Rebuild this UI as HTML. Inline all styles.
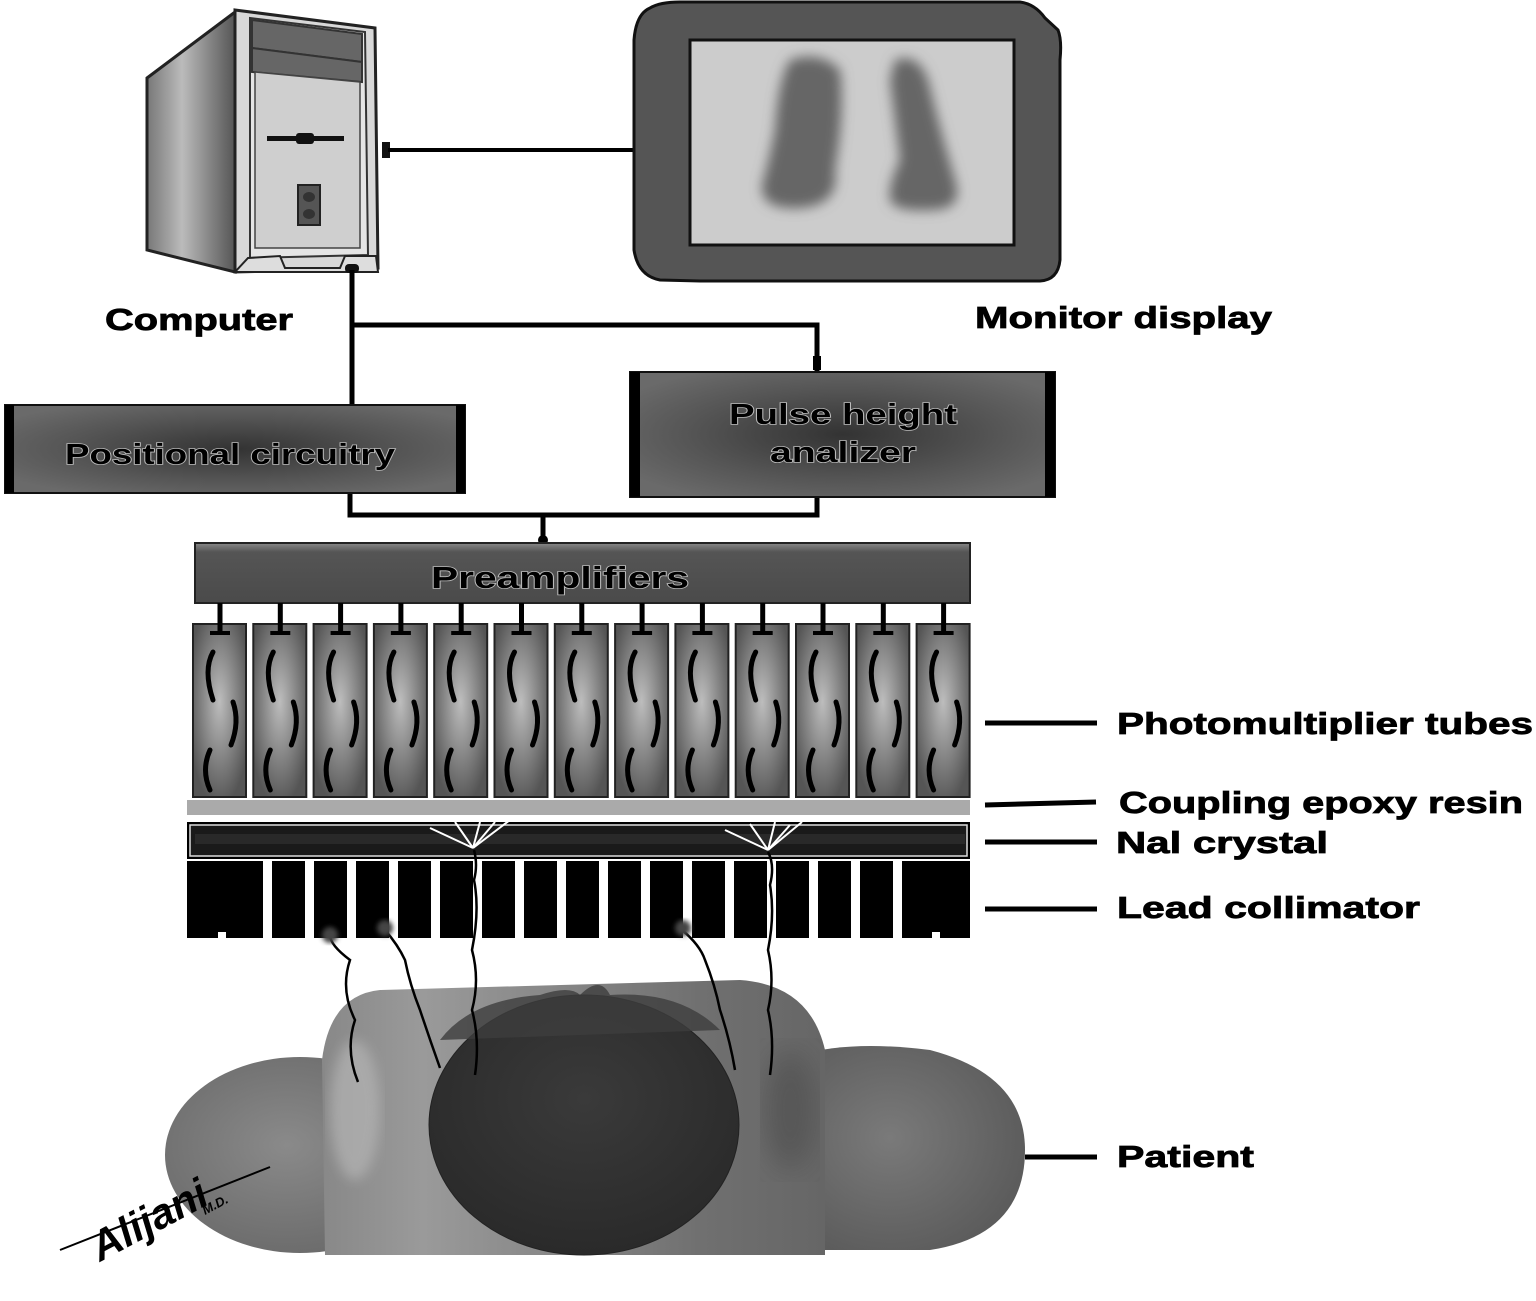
<!DOCTYPE html>
<html><head><meta charset="utf-8"><style>
html,body{margin:0;padding:0;background:#fff}
svg{display:block}
text{font-family:"Liberation Sans",Arial,sans-serif;font-weight:bold}
.bt{fill:#000;stroke:#bbb;stroke-width:1.6px;paint-order:stroke;}
</style></head><body>
<svg width="1536" height="1301" viewBox="0 0 1536 1301" xmlns="http://www.w3.org/2000/svg">
<defs>
<linearGradient id="side" x1="0" x2="1"><stop offset="0" stop-color="#777"/><stop offset="0.4" stop-color="#bbb"/><stop offset="1" stop-color="#555"/></linearGradient>
<radialGradient id="box" cx="0.5" cy="0.5" r="0.6"><stop offset="0" stop-color="#333"/><stop offset="0.6" stop-color="#555"/><stop offset="1" stop-color="#6a6a6a"/></radialGradient>
<radialGradient id="pmt" cx="0.5" cy="0.45" r="0.6"><stop offset="0" stop-color="#bdbdbd"/><stop offset="1" stop-color="#555"/></radialGradient>
<linearGradient id="pre" x1="0" y1="0" x2="0" y2="1"><stop offset="0" stop-color="#888"/><stop offset="0.15" stop-color="#555"/><stop offset="1" stop-color="#4a4a4a"/></linearGradient>
<filter id="blur"><feGaussianBlur stdDeviation="6"/></filter>
<filter id="blur2"><feGaussianBlur stdDeviation="2.5"/></filter>
<filter id="blur3"><feGaussianBlur stdDeviation="14"/></filter>
<linearGradient id="pat" x1="0" x2="1"><stop offset="0" stop-color="#888"/><stop offset="0.2" stop-color="#9a9a9a"/><stop offset="0.45" stop-color="#888"/><stop offset="0.75" stop-color="#707070"/><stop offset="1" stop-color="#666"/></linearGradient>
<radialGradient id="heart" cx="0.5" cy="0.4" r="0.6"><stop offset="0" stop-color="#3a3a3a"/><stop offset="1" stop-color="#2a2a2a"/></radialGradient>
<radialGradient id="lobeL" cx="0.45" cy="0.45" r="0.6"><stop offset="0" stop-color="#8a8a8a"/><stop offset="1" stop-color="#6a6a6a"/></radialGradient>
<radialGradient id="lobeR" cx="0.4" cy="0.45" r="0.65"><stop offset="0" stop-color="#7a7a7a"/><stop offset="1" stop-color="#5a5a5a"/></radialGradient>
</defs>

<!-- Computer -->
<polygon points="147,78 235,12 235,272 147,250" fill="url(#side)" stroke="#222" stroke-width="3"/>
<polygon points="235,10 375,28 378,268 235,272" fill="#d8d8d8" stroke="#222" stroke-width="3"/>
<polygon points="250,18 365,32 368,255 250,258" fill="#e5e5e5" stroke="#333" stroke-width="2"/>
<polygon points="252,20 362,34 362,62 252,48" fill="#666" stroke="#333" stroke-width="2"/>
<polygon points="252,48 362,62 362,82 252,72" fill="#666" stroke="#333" stroke-width="2"/>
<polygon points="255,72 360,82 360,248 255,248" fill="#cfcfcf" stroke="#444" stroke-width="1.5"/>
<rect x="267" y="136" width="77" height="5" fill="#111"/>
<rect x="296" y="133" width="18" height="11" rx="3" fill="#111"/>
<rect x="298" y="185" width="22" height="40" fill="#555" stroke="#222" stroke-width="2"/>
<ellipse cx="309" cy="197" rx="6" ry="5" fill="#333"/><ellipse cx="309" cy="214" rx="6" ry="5" fill="#333"/>
<path d="M248,258 L280,256 L285,268 L340,268 L345,256 L376,256 L378,272 L235,272Z" fill="#ddd" stroke="#222" stroke-width="2"/>
<path d="M382,142 L390,142 L390,158 L382,158Z" fill="#111"/>
<line x1="388" y1="150" x2="633" y2="150" stroke="#000" stroke-width="4"/>
<rect x="345" y="264" width="14" height="9" rx="4" fill="#111"/>

<!-- Monitor -->
<path d="M650,8 Q660,2 680,2 L1020,2 Q1035,4 1045,18 L1058,30 Q1062,40 1060,60 L1060,260 Q1058,280 1040,281 L700,281 L660,280 Q638,276 634,250 L634,40 Q636,14 650,8Z" fill="#555" stroke="#111" stroke-width="3"/>
<rect x="690" y="40" width="324" height="205" fill="#ccc" stroke="#111" stroke-width="3"/>
<g filter="url(#blur)" fill="#666">
<path d="M790,60 Q820,50 840,70 Q845,110 835,170 Q840,205 800,208 Q760,210 762,185 Q768,165 775,130 Q778,80 790,60Z"/>
<path d="M895,60 Q918,52 928,80 Q940,130 955,180 Q965,210 930,210 Q895,212 890,200 Q888,185 900,160 Q895,120 890,80Z"/>
</g>

<text x="105" y="330" font-size="31" textLength="188" lengthAdjust="spacingAndGlyphs" stroke="#000" stroke-width="0.8">Computer</text>
<text x="975" y="328" font-size="31" textLength="297" lengthAdjust="spacingAndGlyphs" stroke="#000" stroke-width="0.8">Monitor display</text>

<!-- connectors top -->
<g stroke="#000" stroke-width="5" fill="none">
<line x1="352" y1="270" x2="352" y2="406"/>
<polyline points="352,325 817,325 817,372"/>
<polyline points="350,493 350,515 817,515 817,497"/>
<line x1="543" y1="515" x2="543" y2="540"/>
</g>
<circle cx="543" cy="540" r="5" fill="#000"/>
<rect x="813" y="356" width="8" height="14" fill="#000"/>

<!-- Positional circuitry -->
<rect x="5" y="405" width="460" height="88" fill="url(#box)" stroke="#111" stroke-width="2"/>
<rect x="5" y="405" width="9" height="88" fill="#000"/>
<rect x="456" y="405" width="9" height="88" fill="#000"/>
<text class="bt" x="230" y="464" font-size="29" text-anchor="middle" textLength="330" lengthAdjust="spacingAndGlyphs">Positional circuitry</text>

<!-- Pulse height analyzer -->
<rect x="630" y="372" width="425" height="125" fill="url(#box)" stroke="#111" stroke-width="2"/>
<rect x="630" y="372" width="10" height="125" fill="#000"/>
<rect x="1045" y="372" width="10" height="125" fill="#000"/>
<text class="bt" x="843" y="424" font-size="29" text-anchor="middle" textLength="228" lengthAdjust="spacingAndGlyphs">Pulse height</text>
<text class="bt" x="843" y="462" font-size="29" text-anchor="middle" textLength="146" lengthAdjust="spacingAndGlyphs">analizer</text>

<!-- Preamplifiers -->
<rect x="195" y="543" width="775" height="60" fill="url(#pre)" stroke="#222" stroke-width="2"/>
<text class="bt" x="560" y="588" font-size="31" text-anchor="middle" textLength="258" lengthAdjust="spacingAndGlyphs">Preamplifiers</text>

<!-- PMTs -->
<g id="tubes">
<g transform="translate(193,0)">
<rect x="0" y="624" width="53" height="173" fill="url(#pmt)" stroke="#222" stroke-width="2"/>
<line x1="27" y1="603" x2="27" y2="633" stroke="#000" stroke-width="5"/>
<line x1="17" y1="633" x2="37" y2="633" stroke="#000" stroke-width="4"/>
<path d="M20,652 Q10,670 20,700" stroke="#000" stroke-width="5" fill="none" stroke-linecap="round"/>
<path d="M40,702 Q47,722 38,745" stroke="#000" stroke-width="5" fill="none" stroke-linecap="round"/>
<path d="M17,750 Q8,770 17,790" stroke="#000" stroke-width="5" fill="none" stroke-linecap="round"/>
</g>
</g>
<use href="#tubes" x="60.3"/><use href="#tubes" x="120.6"/><use href="#tubes" x="180.9"/><use href="#tubes" x="241.2"/><use href="#tubes" x="301.5"/><use href="#tubes" x="361.8"/><use href="#tubes" x="422.1"/><use href="#tubes" x="482.4"/><use href="#tubes" x="542.7"/><use href="#tubes" x="603"/><use href="#tubes" x="663.3"/><use href="#tubes" x="723.6"/>

<!-- epoxy -->
<rect x="187" y="800" width="783" height="15" fill="#aaa"/>
<!-- NaI crystal -->
<rect x="187" y="822" width="783" height="37" fill="#000"/>
<rect x="190" y="825" width="777" height="31" fill="#1a1a1a" stroke="#ddd" stroke-width="1.5"/>
<rect x="195" y="834" width="770" height="10" fill="#333" opacity="0.6"/>
<!-- collimator -->
<rect x="187" y="861" width="783" height="77" fill="#000"/>
<g fill="#fff">
<rect x="263" y="861" width="9" height="77"/><rect x="305" y="861" width="9" height="77"/><rect x="347" y="861" width="9" height="77"/><rect x="389" y="861" width="9" height="77"/><rect x="431" y="861" width="9" height="77"/><rect x="473" y="861" width="9" height="77"/><rect x="515" y="861" width="9" height="77"/><rect x="557" y="861" width="9" height="77"/><rect x="599" y="861" width="9" height="77"/><rect x="641" y="861" width="9" height="77"/><rect x="683" y="861" width="9" height="77"/><rect x="725" y="861" width="9" height="77"/><rect x="767" y="861" width="9" height="77"/><rect x="809" y="861" width="9" height="77"/><rect x="851" y="861" width="9" height="77"/><rect x="893" y="861" width="9" height="77"/>
<rect x="218" y="932" width="8" height="6"/><rect x="932" y="932" width="8" height="6"/>
</g>
<!-- scintillation flashes -->
<g stroke="#fff" stroke-width="2">
<line x1="473" y1="848" x2="430" y2="828"/><line x1="473" y1="848" x2="455" y2="822"/><line x1="473" y1="848" x2="480" y2="822"/><line x1="473" y1="848" x2="510" y2="820"/><line x1="473" y1="848" x2="495" y2="822"/>
<line x1="768" y1="850" x2="725" y2="830"/><line x1="768" y1="850" x2="750" y2="824"/><line x1="768" y1="850" x2="775" y2="822"/><line x1="768" y1="850" x2="802" y2="822"/><line x1="768" y1="850" x2="790" y2="825"/>
</g>

<!-- Patient -->
<g>
<ellipse cx="300" cy="1155" rx="135" ry="98" fill="url(#lobeL)"/>
<path d="M800,1055 Q850,1040 930,1050 Q1025,1075 1025,1150 Q1025,1235 930,1250 L800,1250Z" fill="url(#lobeR)"/>
<path d="M322,1060 Q330,995 380,990 L740,980 Q810,985 825,1050 L825,1255 L325,1255Z" fill="url(#pat)"/>
<ellipse cx="355" cy="1110" rx="25" ry="70" fill="#bbb" filter="url(#blur)" opacity="0.6"/>
<ellipse cx="790" cy="1110" rx="25" ry="60" fill="#444" filter="url(#blur3)" opacity="0.5"/>
<ellipse cx="584" cy="1125" rx="155" ry="130" fill="url(#heart)" stroke="#222" stroke-width="1"/>
<path d="M440,1040 Q470,1000 540,995 Q570,985 580,995 Q600,975 610,995 Q680,990 720,1030" fill="#3d3d3d" opacity="0.8"/>
</g>
<!-- gamma rays -->
<g stroke="#000" stroke-width="2.5" fill="none">
<path d="M358,1082 Q345,1050 355,1020 Q340,990 350,960 Q330,945 330,935"/>
<path d="M440,1068 Q430,1040 420,1010 Q410,985 405,960 Q398,945 385,930"/>
<path d="M475,1075 Q480,1040 472,1010 Q480,980 472,950 Q480,910 474,880 Q478,865 474,850"/>
<path d="M735,1070 Q730,1040 720,1010 Q715,985 705,960 Q700,945 682,930"/>
<path d="M770,1075 Q775,1040 768,1010 Q775,980 768,950 Q775,915 770,885 Q775,865 768,852"/>
</g>
<g filter="url(#blur2)">
<circle cx="330" cy="935" r="8" fill="#444"/><circle cx="385" cy="928" r="8" fill="#444"/><circle cx="683" cy="928" r="8" fill="#444"/>
</g>

<!-- right labels -->
<g stroke="#000" stroke-width="5">
<line x1="985" y1="723" x2="1097" y2="723"/>
<line x1="985" y1="805" x2="1096" y2="802"/>
<line x1="985" y1="842" x2="1097" y2="842"/>
<line x1="985" y1="909" x2="1097" y2="909"/>
<line x1="1025" y1="1157" x2="1097" y2="1157"/>
</g>
<g stroke="#000" stroke-width="0.8">
<text x="1117" y="734" font-size="31" textLength="416" lengthAdjust="spacingAndGlyphs">Photomultiplier tubes</text>
<text x="1119" y="813" font-size="31" textLength="404" lengthAdjust="spacingAndGlyphs">Coupling epoxy resin</text>
<text x="1116" y="853" font-size="31" textLength="212" lengthAdjust="spacingAndGlyphs">Nal crystal</text>
<text x="1117" y="918" font-size="31" textLength="303" lengthAdjust="spacingAndGlyphs">Lead collimator</text>
<text x="1117" y="1167" font-size="31" textLength="137" lengthAdjust="spacingAndGlyphs">Patient</text>
</g>

<!-- signature -->
<line x1="270" y1="1167" x2="60" y2="1250" stroke="#000" stroke-width="2"/>
<text x="100" y="1262" font-size="42" font-style="italic" font-weight="normal" transform="rotate(-28 100 1262)" font-family="Liberation Serif,serif">Alijani</text>
<text x="205" y="1215" font-size="13" font-style="italic" font-weight="normal" transform="rotate(-28 205 1215)">M.D.</text>
</svg>
</body></html>
